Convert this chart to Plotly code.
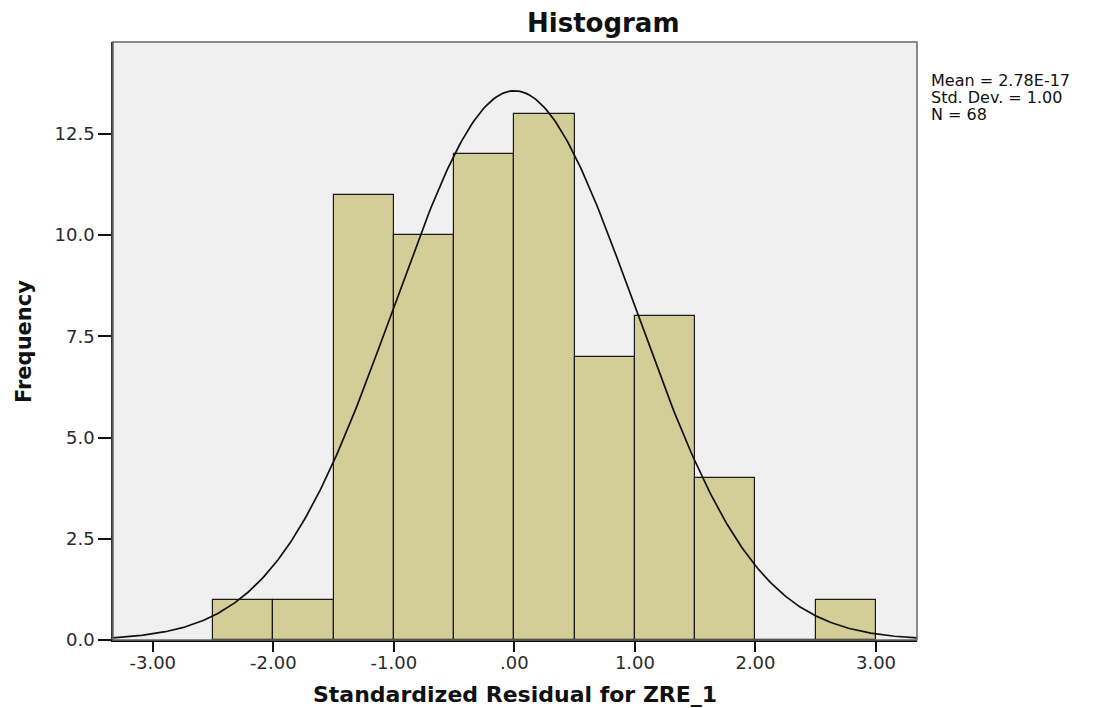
import numpy as np
import plotly.graph_objects as go

# Data
bin_left = [-2.5, -2.0, -1.5, -1.0, -0.5, 0.0, 0.5, 1.0, 1.5, 2.0, 2.5]
counts = [1, 1, 11, 10, 12, 13, 7, 8, 4, 0, 1]
bin_width = 0.5
mean_val = 2.78e-17
sd_val = 1.00
n_val = 68
x_tickvals = [-3, -2, -1, 0, 1, 2, 3]
x_ticktext = ["-3.00", "-2.00", "-1.00", ".00", "1.00", "2.00", "3.00"]
y_tickvals = [0, 2.5, 5, 7.5, 10, 12.5]
y_ticktext = ["0.0", "2.5", "5.0", "7.5", "10.0", "12.5"]
stats_lines = ["Mean = 2.78E-17", f"Std. Dev. = {sd_val:.2f}", f"N = {n_val}"]

x_range = [-3.33, 3.34]
y_range = [0, 14.77]

centers = [b + bin_width / 2 for b in bin_left]

# fitted normal curve
xc = np.linspace(x_range[0], x_range[1], 400)
yc = n_val * bin_width / (sd_val * np.sqrt(2 * np.pi)) * np.exp(-0.5 * ((xc - mean_val) / sd_val) ** 2)

fig = go.Figure()
fig.add_trace(go.Bar(
    x=centers, y=counts, width=bin_width,
    marker=dict(color="#D3CE98", line=dict(color="#1a1a1a", width=1.2)),
    hoverinfo="x+y", showlegend=False,
))
fig.add_trace(go.Scatter(
    x=xc, y=yc, mode="lines",
    line=dict(color="#111111", width=1.7),
    showlegend=False, hoverinfo="skip",
))

font = "DejaVu Sans, Verdana, sans-serif"

# plot area target (screen px): x 113..917, y 42..640 ; page offset 8px
L, R, T, B = 113, 917, 42, 640
off = 8
W, H = 1095, 708

def px_x(x):
    return (x - L) / (R - L)

def px_y(y):
    return (B - y) / (B - T)

annotations = [
    dict(text="<b>Histogram</b>", xref="paper", yref="paper",
         x=px_x(603), y=px_y(23), yanchor="middle", xanchor="center",
         showarrow=False, font=dict(size=26, family=font, color="#111111")),
    dict(text="<b>Standardized Residual for ZRE_1</b>", xref="paper", yref="paper",
         x=px_x(515), y=px_y(694), yanchor="middle", xanchor="center",
         showarrow=False, font=dict(size=22, family=font, color="#111111")),
    dict(text="<b>Frequency</b>", xref="paper", yref="paper",
         x=px_x(24), y=px_y(342), yanchor="middle", xanchor="center", textangle=-90,
         showarrow=False, font=dict(size=21, family=font, color="#111111")),
]
for i, line in enumerate(stats_lines):
    annotations.append(dict(
        text=line, xref="paper", yref="paper", x=px_x(929), y=px_y(81 + 16.5 * i),
        xanchor="left", yanchor="middle", showarrow=False,
        font=dict(size=16, family=font, color="#111111")))

fig.update_layout(
    width=W, height=H,
    margin=dict(l=L - off, r=W + off - R, t=T - off, b=H + off - B),
    paper_bgcolor="white",
    plot_bgcolor="#F0F0F0",
    bargap=0,
    font=dict(family=font, color="#222222"),
    xaxis=dict(
        range=x_range, tickvals=x_tickvals, ticktext=x_ticktext,
        ticks="outside", ticklen=10, tickwidth=1.5, tickcolor="#111111",
        showgrid=False, zeroline=False,
        showline=True, linecolor="#111111", linewidth=1.5,
        tickfont=dict(size=18, family=font, color="#2a2a2a"),
        ticklabelstandoff=-4,
    ),
    yaxis=dict(
        range=y_range, tickvals=y_tickvals, ticktext=y_ticktext,
        ticks="outside", ticklen=13, tickwidth=1.5, tickcolor="#111111",
        showgrid=False, zeroline=False,
        showline=True, linecolor="#333333", linewidth=1.5,
        tickfont=dict(size=18, family=font, color="#2a2a2a"),
    ),
    shapes=[dict(type="rect", xref="paper", yref="paper", x0=0, y0=0, x1=1, y1=1,
                 line=dict(color="#666666", width=1.5), layer="above")],
    annotations=annotations,
)

fig.write_html("out.html")
